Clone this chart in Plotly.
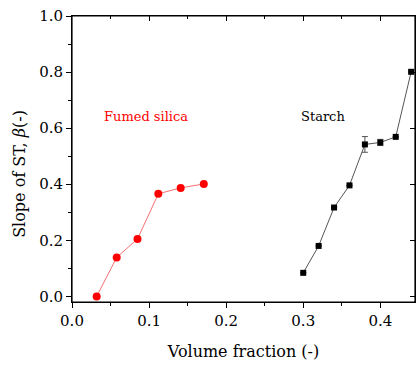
import plotly.graph_objects as go

silica_x = [0.032, 0.058, 0.085, 0.112, 0.141, 0.171]
silica_y = [0.0, 0.139, 0.205, 0.366, 0.387, 0.401]

starch_x = [0.30, 0.32, 0.34, 0.36, 0.38, 0.40, 0.42, 0.44]
starch_y = [0.084, 0.180, 0.317, 0.396, 0.542, 0.549, 0.569, 0.801]
starch_err = [0.0, 0.0, 0.0, 0.0, 0.028, 0.011, 0.0, 0.0]

x_range = [0.0, 0.445]
y_range = [-0.02, 1.0]
x_ticks = [0.0, 0.1, 0.2, 0.3, 0.4]
y_ticks = [0.0, 0.2, 0.4, 0.6, 0.8, 1.0]

FONT = "DejaVu Serif"

fig = go.Figure()
fig.add_trace(go.Scatter(
    x=silica_x, y=silica_y, mode="lines+markers",
    line=dict(color="#f47070", width=1),
    marker=dict(color="#ff0000", size=8, symbol="circle"),
    showlegend=False))
fig.add_trace(go.Scatter(
    x=starch_x, y=starch_y, mode="lines+markers",
    line=dict(color="#555555", width=1),
    marker=dict(color="#000000", size=6, symbol="square"),
    error_y=dict(type="data", array=starch_err, color="#555555", thickness=1, width=3),
    showlegend=False))
# invisible copy so the mirrored (top/right) axes get drawn
fig.add_trace(go.Scatter(
    x=starch_x, y=starch_y, xaxis="x2", yaxis="y2", mode="markers",
    marker=dict(opacity=0), hoverinfo="skip", showlegend=False))

axis_common = dict(showline=True, linecolor="black", linewidth=1, showgrid=False,
                   zeroline=False, tickcolor="black", ticklen=5, tickwidth=1,
                   automargin=False)

fig.update_layout(
    width=416, height=365,
    margin=dict(l=72, r=1, t=16, b=63),
    paper_bgcolor="white", plot_bgcolor="white",
    font=dict(family=FONT, size=15, color="black"),
    xaxis=dict(range=x_range, tickvals=x_ticks, ticktext=[f"{v:.1f}" for v in x_ticks],
               ticks="outside", tickfont=dict(family=FONT, size=15), mirror=True,
               minor=dict(dtick=0.05, ticks="outside", ticklen=3, tickcolor="black"),
               title=dict(text="Volume fraction (-)", font=dict(family=FONT, size=16), standoff=16),
               **axis_common),
    yaxis=dict(range=y_range, tickvals=y_ticks, ticktext=[f"{v:.1f}" for v in y_ticks],
               ticks="outside", tickfont=dict(family=FONT, size=15), mirror=True,
               minor=dict(dtick=0.1, ticks="outside", ticklen=3, tickcolor="black"),
               **axis_common),
    xaxis2=dict(range=x_range, overlaying="x", side="top", tickvals=x_ticks,
                showticklabels=False, ticks="inside",
                minor=dict(dtick=0.05, ticks="inside", ticklen=3, tickcolor="black"),
                **axis_common),
    yaxis2=dict(range=y_range, overlaying="y", side="right", tickvals=y_ticks,
                showticklabels=False, ticks="inside",
                **axis_common),
    shapes=[dict(type="rect", xref="paper", yref="paper", x0=0, x1=1, y0=0, y1=1,
                 line=dict(color="black", width=1.2), layer="above")],
    annotations=[
        dict(text="Fumed silica", x=0.0955, y=0.64, xref="x", yref="y",
             showarrow=False, font=dict(family=FONT, size=13, color="#ff0000")),
        dict(text="Starch", x=0.325, y=0.64, xref="x", yref="y",
             showarrow=False, font=dict(family=FONT, size=13, color="black")),
        dict(text="Slope of ST, <i>β</i>(-)", x=0, y=0.448, xref="paper", yref="paper",
             xanchor="center", yanchor="middle",
             xshift=-52, textangle=-90, showarrow=False,
             font=dict(family=FONT, size=16, color="black")),
    ],
)

fig.write_html("out.html", config={"displayModeBar": False},
               post_script="document.body.style.margin='0';document.body.style.overflow='hidden';")
